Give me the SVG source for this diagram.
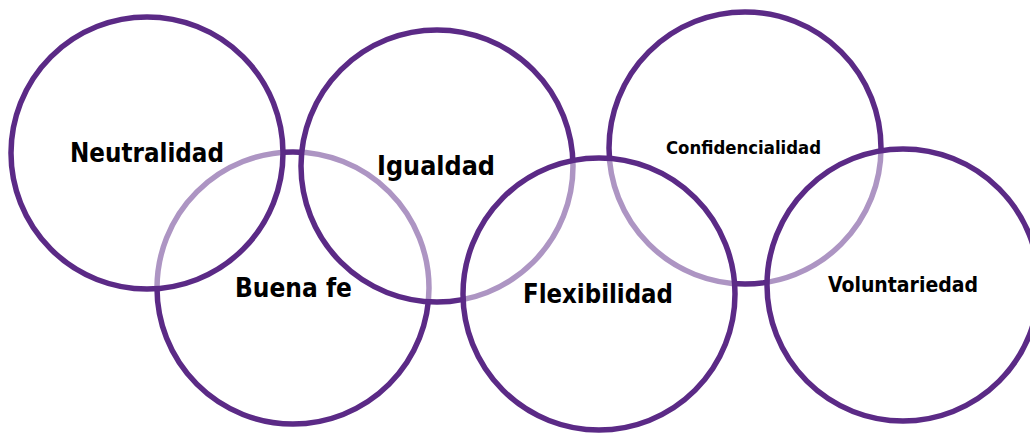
<svg xmlns="http://www.w3.org/2000/svg" width="1030" height="433" viewBox="0 0 1030 433">
  <style>
    .ring { fill: #ffffff; fill-opacity: 0.5; stroke: #5B2A86; stroke-width: 5.5; }
    .lbl { font-family: "DejaVu Sans Condensed", "DejaVu Sans", sans-serif; font-weight: bold; fill: #000000; text-anchor: middle; }
  </style>
  <rect width="1030" height="433" fill="#ffffff"/>
  <g id="buena-fe">
    <circle class="ring" cx="293" cy="288" r="136"/>
  </g>
  <g id="confidencialidad">
    <circle class="ring" cx="745" cy="148" r="136"/>
  </g>
  <g id="neutralidad">
    <circle class="ring" cx="147" cy="153" r="136"/>
  </g>
  <g id="igualdad">
    <circle class="ring" cx="437" cy="166" r="136"/>
  </g>
  <g id="flexibilidad">
    <circle class="ring" cx="599" cy="294" r="136"/>
  </g>
  <g id="voluntariedad">
    <circle class="ring" cx="903" cy="285" r="136"/>
  </g>
  <g id="labels">
    <text class="lbl" x="147" y="162" font-size="26" textLength="154" lengthAdjust="spacingAndGlyphs">Neutralidad</text>
    <text class="lbl" x="436" y="175" font-size="26" textLength="118" lengthAdjust="spacingAndGlyphs">Igualdad</text>
    <text class="lbl" x="293.5" y="297" font-size="26" textLength="117" lengthAdjust="spacingAndGlyphs">Buena fe</text>
    <text class="lbl" x="598" y="303" font-size="26" textLength="150" lengthAdjust="spacingAndGlyphs">Flexibilidad</text>
    <text class="lbl" x="743.5" y="154" font-size="18.5" textLength="155" lengthAdjust="spacingAndGlyphs">Confidencialidad</text>
    <text class="lbl" x="903" y="292" font-size="21" textLength="150" lengthAdjust="spacingAndGlyphs">Voluntariedad</text>
  </g>
  <g id="connectors"/>
</svg>
